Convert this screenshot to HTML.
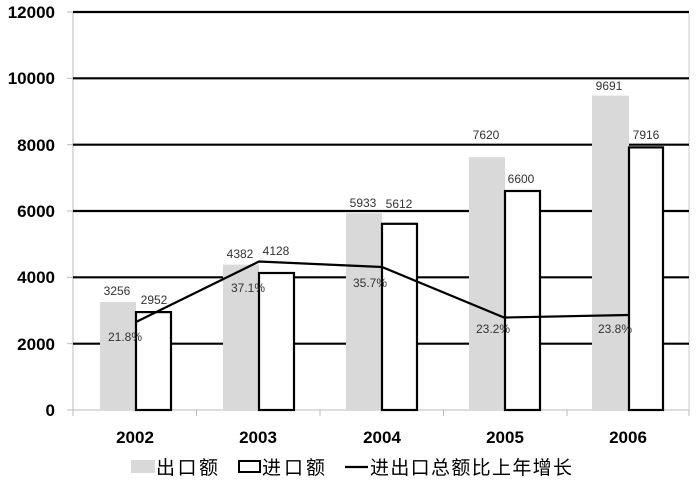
<!DOCTYPE html>
<html><head><meta charset="utf-8"><style>
body{margin:0;background:#fff;width:700px;height:479px;overflow:hidden}
</style></head><body>
<svg width="700" height="479" xmlns="http://www.w3.org/2000/svg" font-family="Liberation Sans, DejaVu Sans, sans-serif">
<rect width="700" height="479" fill="#fff"/>
<line x1="73" y1="12" x2="73" y2="410" stroke="#bbb" stroke-width="1"/>
<line x1="689" y1="12" x2="689" y2="410" stroke="#ccc" stroke-width="1"/>
<g stroke="#000" stroke-width="2.2">
<line x1="73" y1="12" x2="689" y2="12"/>
<line x1="73" y1="78.3" x2="689" y2="78.3"/>
<line x1="73" y1="144.7" x2="689" y2="144.7"/>
<line x1="73" y1="211" x2="689" y2="211"/>
<line x1="73" y1="277.3" x2="689" y2="277.3"/>
<line x1="73" y1="343.7" x2="689" y2="343.7"/>
</g>
<line x1="67" y1="410" x2="689" y2="410" stroke="#bbb" stroke-width="1"/>
<g stroke="#bbb" stroke-width="1">
<line x1="67" y1="12" x2="73" y2="12"/><line x1="67" y1="78.3" x2="73" y2="78.3"/><line x1="67" y1="144.7" x2="73" y2="144.7"/><line x1="67" y1="211" x2="73" y2="211"/><line x1="67" y1="277.3" x2="73" y2="277.3"/><line x1="67" y1="343.7" x2="73" y2="343.7"/>
<line x1="73" y1="410" x2="73" y2="416"/><line x1="196.5" y1="410" x2="196.5" y2="416"/><line x1="320" y1="410" x2="320" y2="416"/><line x1="443.5" y1="410" x2="443.5" y2="416"/><line x1="567" y1="410" x2="567" y2="416"/><line x1="689" y1="410" x2="689" y2="416"/>
</g>
<g fill="#d9d9d9">
<rect x="100" y="302" width="36" height="108"/>
<rect x="223" y="264.6" width="36" height="145.4"/>
<rect x="346" y="213.2" width="36" height="196.8"/>
<rect x="469" y="157.2" width="36" height="252.8"/>
<rect x="592" y="95.6" width="37" height="314.4"/>
</g>
<g fill="#fff" stroke="#000" stroke-width="2.2">
<rect x="136" y="312.1" width="35" height="97.9"/>
<rect x="259" y="273" width="35" height="137"/>
<rect x="382" y="223.8" width="35" height="186.2"/>
<rect x="505" y="191" width="35" height="219"/>
<rect x="629" y="147.4" width="34" height="262.6"/>
</g>
<polyline points="136,322 259,261.5 382,267 504,317.5 628,315" fill="none" stroke="#000" stroke-width="2.2"/>
<g font-size="12" fill="#333" text-anchor="middle">
<text x="117" y="295">3256</text><text x="154" y="304">2952</text>
<text x="240" y="258">4382</text><text x="276" y="255">4128</text>
<text x="363" y="207">5933</text><text x="399" y="208">5612</text>
<text x="486" y="139">7620</text><text x="521" y="183">6600</text>
<text x="609" y="90">9691</text><text x="646" y="139">7916</text>
<text x="125" y="341">21.8%</text><text x="248" y="292">37.1%</text><text x="370" y="287">35.7%</text><text x="493" y="333">23.2%</text><text x="615" y="333">23.8%</text>
</g>
<g font-size="17" font-weight="bold" text-anchor="end" fill="#000">
<text x="55" y="18">12000</text><text x="55" y="84">10000</text><text x="55" y="151">8000</text><text x="55" y="217">6000</text><text x="55" y="283">4000</text><text x="55" y="350">2000</text><text x="55" y="416">0</text>
</g>
<g font-size="17" font-weight="bold" text-anchor="middle" fill="#000">
<text x="135" y="443">2002</text><text x="258" y="443">2003</text><text x="382" y="443">2004</text><text x="505" y="443">2005</text><text x="628" y="443">2006</text>
</g>
<rect x="131" y="460" width="24" height="13" fill="#d9d9d9"/>
<rect x="239" y="461" width="21" height="11" fill="#fff" stroke="#000" stroke-width="2"/>
<line x1="345" y1="467" x2="368" y2="467" stroke="#000" stroke-width="2.2"/>
<g font-size="19" fill="#000" font-family="Liberation Sans, Noto Sans CJK SC, sans-serif">
<text x="156" y="474" textLength="62">出口额</text>
<text x="262" y="474" textLength="63">进口额</text>
<text x="370" y="474" textLength="202">进出口总额比上年增长</text>
</g>
</svg>
</body></html>
